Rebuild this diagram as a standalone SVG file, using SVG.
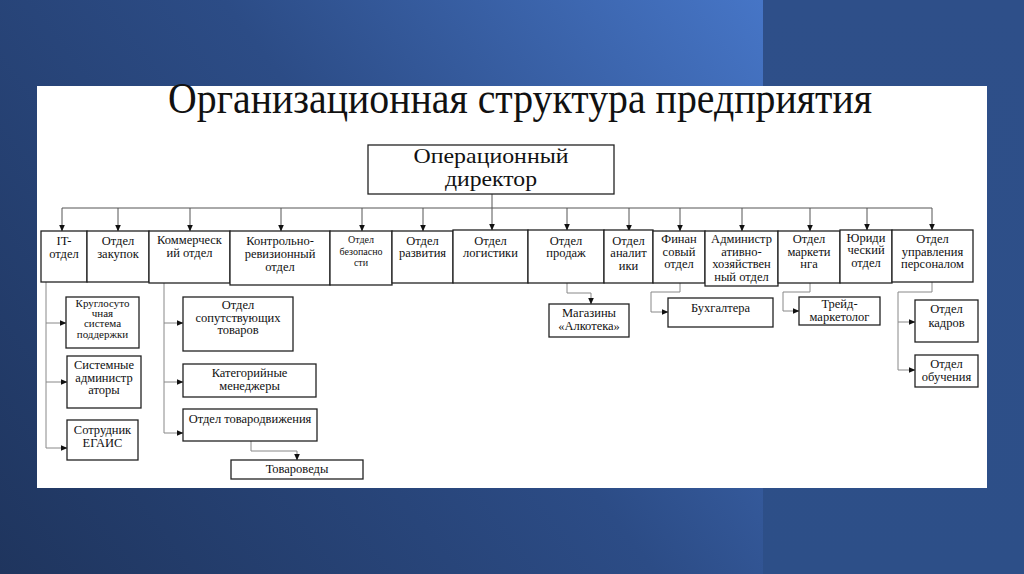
<svg xmlns="http://www.w3.org/2000/svg" width="1024" height="574" viewBox="0 0 1024 574">
<defs>
<linearGradient id="bg" x1="0" y1="574" x2="760" y2="0" gradientUnits="userSpaceOnUse">
<stop offset="0" stop-color="#1f355e"/>
<stop offset="0.55" stop-color="#2c4c86"/>
<stop offset="1" stop-color="#4675c6"/>
</linearGradient>
<linearGradient id="bg2" x1="0" y1="0" x2="0" y2="1">
<stop offset="0" stop-color="#2e4f89"/>
<stop offset="1" stop-color="#2d4f88"/>
</linearGradient>
<marker id="arr" markerUnits="userSpaceOnUse" markerWidth="7" markerHeight="7" viewBox="0 0 7 7" refX="6.5" refY="3.5" orient="auto">
<path d="M0,0.5 L7,3.5 L0,6.5 Z" fill="#111"/>
</marker>
<style>
.box{fill:#fff;stroke:#222;stroke-width:1.3}
.lb{font-family:'Liberation Serif','Times New Roman',serif;fill:#111;text-anchor:middle;font-size:12.5px}
.lb.sm{font-size:10px}
.lb.md{font-size:11px}
.lb.big{font-size:21px}
.c{fill:none;stroke:#555;stroke-width:1}
.cl{fill:none;stroke:#888;stroke-width:1}
</style>
</defs>
<rect x="0" y="0" width="1024" height="574" fill="url(#bg)"/>
<rect x="763" y="0" width="261" height="574" fill="url(#bg2)"/>
<rect x="37" y="86" width="950" height="402" fill="#fff"/>
<text x="168" y="113" font-family="'Liberation Serif', 'Times New Roman', serif" font-size="44" fill="#111" textLength="704" lengthAdjust="spacingAndGlyphs">Организационная структура предприятия</text>

<g id="connectors">
<path class="c" d="M492 194 V208 M62 208 H932"/>
<path class="c" marker-end="url(#arr)" d="M62 208 V231"/>
<path class="c" marker-end="url(#arr)" d="M118 208 V231"/>
<path class="c" marker-end="url(#arr)" d="M190 208 V231"/>
<path class="c" marker-end="url(#arr)" d="M281 208 V231"/>
<path class="c" marker-end="url(#arr)" d="M362 208 V231"/>
<path class="c" marker-end="url(#arr)" d="M423 208 V231"/>
<path class="c" marker-end="url(#arr)" d="M492 208 V230"/>
<path class="c" marker-end="url(#arr)" d="M567 208 V230"/>
<path class="c" marker-end="url(#arr)" d="M629 208 V231"/>
<path class="c" marker-end="url(#arr)" d="M680 208 V231"/>
<path class="c" marker-end="url(#arr)" d="M742 208 V231"/>
<path class="c" marker-end="url(#arr)" d="M810 208 V231"/>
<path class="c" marker-end="url(#arr)" d="M867 208 V230"/>
<path class="c" marker-end="url(#arr)" d="M932 208 V230"/>
<path class="cl" d="M46 282 V448"/>
<path class="cl" marker-end="url(#arr)" d="M46 323 H66"/>
<path class="cl" marker-end="url(#arr)" d="M46 382 H67"/>
<path class="cl" marker-end="url(#arr)" d="M46 448 H67"/>
<path class="cl" d="M164 283 V433"/>
<path class="cl" marker-end="url(#arr)" d="M164 323 H183"/>
<path class="cl" marker-end="url(#arr)" d="M164 382 H183"/>
<path class="cl" marker-end="url(#arr)" d="M164 433 H183"/>
<path class="cl" marker-end="url(#arr)" d="M251 441 V451 H297 V460"/>
<path class="cl" marker-end="url(#arr)" d="M567 283 V293 H591 V304"/>
<path class="cl" marker-end="url(#arr)" d="M680 283 V292 H651 V312 H668"/>
<path class="cl" marker-end="url(#arr)" d="M810 283 V292 H783 V311 H799"/>
<path class="cl" marker-end="url(#arr)" d="M932 282 V292 H898 V370 H915"/>
<path class="cl" marker-end="url(#arr)" d="M898 322 H915"/>
</g>

<g id="director">
<rect class="box" x="368" y="145" width="246" height="49"/>
<text class="lb big" x="491" y="163" textLength="155" lengthAdjust="spacingAndGlyphs">Операционный</text>
<text class="lb big" x="491" y="186" textLength="92" lengthAdjust="spacingAndGlyphs">директор</text>
</g>

<g id="it"><rect class="box" x="41" y="231" width="46" height="51"/>
<text class="lb" x="64" y="245">IT-</text><text class="lb" x="64" y="258">отдел</text></g>
<g id="zakupki"><rect class="box" x="87" y="231" width="62" height="51"/>
<text class="lb" x="118" y="245">Отдел</text><text class="lb" x="118" y="258">закупок</text></g>
<g id="kommerch"><rect class="box" x="149" y="231" width="81" height="52"/>
<text class="lb" x="189.5" y="244">Коммерческ</text><text class="lb" x="189.5" y="257">ий отдел</text></g>
<g id="kontrol"><rect class="box" x="230" y="231" width="100" height="54"/>
<text class="lb" x="280" y="245">Контрольно-</text><text class="lb" x="280" y="258">ревизионный</text><text class="lb" x="280" y="271">отдел</text></g>
<g id="bezop"><rect class="box" x="330" y="231" width="62" height="54"/>
<text class="lb sm" x="361" y="243">Отдел</text><text class="lb sm" x="361" y="255">безопасно</text><text class="lb sm" x="361" y="266">сти</text></g>
<g id="razvitie"><rect class="box" x="392" y="231" width="61" height="52"/>
<text class="lb" x="422.5" y="245">Отдел</text><text class="lb" x="422.5" y="257">развития</text></g>
<g id="logistika"><rect class="box" x="453" y="230" width="75" height="53"/>
<text class="lb" x="490.5" y="245">Отдел</text><text class="lb" x="490.5" y="257">логистики</text></g>
<g id="prodazhi"><rect class="box" x="528" y="230" width="76" height="53"/>
<text class="lb" x="566" y="245">Отдел</text><text class="lb" x="566" y="257">продаж</text></g>
<g id="analitika"><rect class="box" x="604" y="230" width="49" height="53"/>
<text class="lb" x="628.5" y="245">Отдел</text><text class="lb" x="628.5" y="257">аналит</text><text class="lb" x="628.5" y="270">ики</text></g>
<g id="finans"><rect class="box" x="653" y="231" width="52" height="52"/>
<text class="lb" x="679" y="243">Финан</text><text class="lb" x="679" y="256">совый</text><text class="lb" x="679" y="268">отдел</text></g>
<g id="admin"><rect class="box" x="705" y="231" width="73" height="55"/>
<text class="lb" x="741.5" y="243">Администр</text><text class="lb" x="741.5" y="256">ативно-</text><text class="lb" x="741.5" y="268">хозяйствен</text><text class="lb" x="741.5" y="281">ный отдел</text></g>
<g id="marketing"><rect class="box" x="778" y="231" width="62" height="52"/>
<text class="lb" x="809" y="243">Отдел</text><text class="lb" x="809" y="256">маркети</text><text class="lb" x="809" y="268">нга</text></g>
<g id="yurid"><rect class="box" x="840" y="230" width="52" height="53"/>
<text class="lb" x="866" y="242">Юриди</text><text class="lb" x="866" y="254">ческий</text><text class="lb" x="866" y="267">отдел</text></g>
<g id="personal"><rect class="box" x="892" y="230" width="81" height="52"/>
<text class="lb" x="932.5" y="243">Отдел</text><text class="lb" x="932.5" y="256">управления</text><text class="lb" x="932.5" y="268">персоналом</text></g>

<g id="kruglosut"><rect class="box" x="66" y="297" width="73" height="51"/>
<text class="lb md" x="102.5" y="307">Круглосуто</text><text class="lb md" x="102.5" y="317">чная</text><text class="lb md" x="102.5" y="327">система</text><text class="lb md" x="102.5" y="338">поддержки</text></g>
<g id="sysadmin"><rect class="box" x="67" y="356" width="74" height="52"/>
<text class="lb" x="104" y="369">Системные</text><text class="lb" x="104" y="382">администр</text><text class="lb" x="104" y="394">аторы</text></g>
<g id="egais"><rect class="box" x="67" y="420" width="71" height="40"/>
<text class="lb" x="102.5" y="434">Сотрудник</text><text class="lb" x="102.5" y="447">ЕГАИС</text></g>
<g id="soput"><rect class="box" x="183" y="297" width="110" height="54"/>
<text class="lb" x="238" y="309">Отдел</text><text class="lb" x="238" y="322">сопутствующих</text><text class="lb" x="238" y="334">товаров</text></g>
<g id="kateg"><rect class="box" x="183" y="364" width="133" height="33"/>
<text class="lb" x="249.5" y="377">Категорийные</text><text class="lb" x="249.5" y="390">менеджеры</text></g>
<g id="tovarodv"><rect class="box" x="183" y="409" width="134" height="32"/>
<text class="lb" x="250" y="423">Отдел товародвижения</text></g>
<g id="tovaroved"><rect class="box" x="231" y="460" width="132" height="19"/>
<text class="lb" x="297" y="473">Товароведы</text></g>
<g id="magaziny"><rect class="box" x="549" y="304" width="80" height="33"/>
<text class="lb" x="589" y="317">Магазины</text><text class="lb" x="589" y="330">«Алкотека»</text></g>
<g id="buh"><rect class="box" x="668" y="298" width="105" height="29"/>
<text class="lb" x="720.5" y="312">Бухгалтера</text></g>
<g id="trade"><rect class="box" x="799" y="297" width="81" height="28"/>
<text class="lb" x="839.5" y="308">Трейд-</text><text class="lb" x="839.5" y="321">маркетолог</text></g>
<g id="kadry"><rect class="box" x="915" y="300" width="63" height="42"/>
<text class="lb" x="946.5" y="313">Отдел</text><text class="lb" x="946.5" y="327">кадров</text></g>
<g id="obuch"><rect class="box" x="915" y="355" width="63" height="32"/>
<text class="lb" x="946.5" y="368">Отдел</text><text class="lb" x="946.5" y="381">обучения</text></g>
</svg>
